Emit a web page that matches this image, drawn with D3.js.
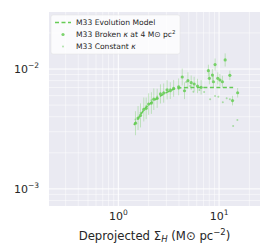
<!DOCTYPE html>
<html>
<head>
<meta charset="utf-8">
<script src="https://cdn.jsdelivr.net/npm/d3@7"></script>
<style>
  body { margin: 0; background: #fff; }
  text { font-family: "DejaVu Sans", sans-serif; fill: #262626; }
</style>
</head>
<body>
<script>
// evolution model (dashed)
var modelX = [1.43, 1.6, 1.79, 2.1, 2.43, 2.85, 3.28, 3.8, 4.44, 6, 8, 10, 13.8];
var modelY = [0.00341, 0.00395, 0.00455, 0.0052, 0.0057, 0.0062, 0.00659, 0.0069, 0.00699, 0.007, 0.007, 0.007, 0.007];

// broken kappa points, error in dex
var brokenX = [1.48, 1.57, 1.66, 1.79, 1.89, 2.00, 2.13, 2.25, 2.43, 2.62, 2.82, 3.05, 3.28, 3.54, 3.97, 4.31,
  4.54, 4.91, 5.29, 5.66, 6.11, 6.64, 7.84, 8.02, 8.59, 8.79, 9.13, 9.71, 10.2, 10.8, 11.5, 12.8, 13.6, 15.3];
var brokenY = [0.00353, 0.0039, 0.0041, 0.0046, 0.0047, 0.0051, 0.0052, 0.0056, 0.0057, 0.0062, 0.0063, 0.0067, 0.0066, 0.0069, 0.0071, 0.00858,
  0.00659, 0.00799, 0.00769, 0.0075, 0.00722, 0.00704, 0.00968, 0.00836, 0.00891, 0.00783, 0.0109, 0.00836, 0.0081, 0.00783, 0.0119, 0.00886, 0.00545, 0.00634];
var brokenErr = [0.1, 0.1, 0.1, 0.1, 0.09, 0.09, 0.09, 0.09, 0.08, 0.08, 0.08, 0.08, 0.07, 0.07, 0.07, 0.07,
  0.07, 0.07, 0.06, 0.06, 0.06, 0.06, 0.05, 0.05, 0.05, 0.05, 0.05, 0.05, 0.05, 0.05, 0.055, 0.04, 0.04, 0.04];

// constant kappa points
var constX = [1.48, 1.66, 1.89, 2.13, 2.43, 2.82, 3.28, 3.97, 4.72, 5.17, 5.57, 6.39, 7.11, 8.15, 9.13, 9.84, 10.9, 11.9, 12.8, 13.8, 15.2];
var constY = [0.0038, 0.0043, 0.0049, 0.0055, 0.0059, 0.0064, 0.0068, 0.0068, 0.00779, 0.00722, 0.00647, 0.00668, 0.00643, 0.00559, 0.00596, 0.00588, 0.00528, 0.0057, 0.00559, 0.00335, 0.00376];

var xTicks = [1, 10];
var yTicks = [0.001, 0.01];

var w = 266, h = 244;
var m = {left: 49, right: 6, top: 12, bottom: 38};
var green = '#66cc55';

var x = d3.scaleLog().domain([0.205, 25.5]).range([m.left, w - m.right]);
var y = d3.scaleLog().domain([0.00072, 0.0299]).range([h - m.bottom, m.top]);

var svg = d3.select('body').append('svg')
  .attr('width', w)
  .attr('height', h);

svg.append('rect')
  .attr('x', m.left).attr('y', m.top)
  .attr('width', w - m.left - m.right)
  .attr('height', h - m.top - m.bottom)
  .attr('fill', '#eaeaf2');

var xMinor = [];
[0.1, 1, 10].forEach(function(b) {
  for (var i = 2; i < 10; i++) if (b * i > 0.205 && b * i < 25.5) xMinor.push(b * i);
});
var yMinor = [];
[0.0001, 0.001, 0.01].forEach(function(b) {
  for (var i = 2; i < 10; i++) if (b * i > 0.00072 && b * i < 0.0299) yMinor.push(b * i);
});

var grid = svg.append('g');
grid.selectAll('.vmin').data(xMinor).enter().append('line')
  .attr('x1', x).attr('x2', x).attr('y1', m.top).attr('y2', h - m.bottom)
  .attr('stroke', '#fff').attr('stroke-width', 0.5);
grid.selectAll('.hmin').data(yMinor).enter().append('line')
  .attr('y1', y).attr('y2', y).attr('x1', m.left).attr('x2', w - m.right)
  .attr('stroke', '#fff').attr('stroke-width', 0.5);
grid.selectAll('.vmaj').data(xTicks).enter().append('line')
  .attr('x1', x).attr('x2', x).attr('y1', m.top).attr('y2', h - m.bottom)
  .attr('stroke', '#fff').attr('stroke-width', 1);
grid.selectAll('.hmaj').data(yTicks).enter().append('line')
  .attr('y1', y).attr('y2', y).attr('x1', m.left).attr('x2', w - m.right)
  .attr('stroke', '#fff').attr('stroke-width', 1);

// tick labels
var xl = svg.append('g').selectAll('text').data(xTicks).enter().append('text')
  .attr('x', x).attr('y', 220)
  .attr('text-anchor', 'middle')
  .style('font-size', '11px');
xl.append('tspan').text('10');
xl.append('tspan').attr('dy', -5).style('font-size', '7.5px')
  .text(function(d) { return String(Math.round(Math.log10(d))); });

var yl = svg.append('g').selectAll('text').data(yTicks).enter().append('text')
  .attr('x', 39).attr('y', function(d) { return y(d) + 4; })
  .attr('text-anchor', 'end')
  .style('font-size', '11px');
yl.append('tspan').text('10');
yl.append('tspan').attr('dy', -5).style('font-size', '7.5px')
  .text(function(d) { return '\u2212' + Math.abs(Math.round(Math.log10(d))); });

// axis label
var lab = svg.append('text')
  .attr('x', (m.left + w - m.right) / 2).attr('y', 240)
  .attr('text-anchor', 'middle')
  .style('font-size', '11.7px');
lab.append('tspan').text('Deprojected \u03a3');
lab.append('tspan').attr('dy', 2).style('font-size', '8.5px').style('font-style', 'italic').text('H');
lab.append('tspan').attr('dy', -2).text(' (M\u2299 pc');
lab.append('tspan').attr('dy', -5).style('font-size', '8.5px').text('\u22122');
lab.append('tspan').attr('dy', 5).text(')');

// error bars
svg.append('g').selectAll('line').data(brokenX).enter().append('line')
  .attr('x1', function(d) { return x(d); })
  .attr('x2', function(d) { return x(d); })
  .attr('y1', function(d, i) { return y(brokenY[i] * Math.pow(10, brokenErr[i])); })
  .attr('y2', function(d, i) { return y(brokenY[i] / Math.pow(10, brokenErr[i])); })
  .attr('stroke', green).attr('stroke-opacity', 0.35).attr('stroke-width', 1);

var line = d3.line()
  .x(function(d, i) { return x(modelX[i]); })
  .y(function(d) { return y(d); })
  .curve(d3.curveMonotoneX);

svg.append('path')
  .datum(modelY)
  .attr('d', line)
  .attr('fill', 'none')
  .attr('stroke', green)
  .attr('stroke-width', 1.5)
  .attr('stroke-dasharray', '4,2.5');

svg.append('g').selectAll('circle').data(constX).enter().append('circle')
  .attr('cx', function(d) { return x(d); })
  .attr('cy', function(d, i) { return y(constY[i]); })
  .attr('r', 1)
  .attr('fill', green).attr('fill-opacity', 0.5);

svg.append('g').selectAll('circle').data(brokenX).enter().append('circle')
  .attr('cx', function(d) { return x(d); })
  .attr('cy', function(d, i) { return y(brokenY[i]); })
  .attr('r', 1.6)
  .attr('fill', green).attr('fill-opacity', 0.85);

// legend
var lg = svg.append('g');
lg.append('rect')
  .attr('x', 51).attr('y', 15).attr('width', 129).attr('height', 39).attr('rx', 2)
  .attr('fill', '#fff').attr('fill-opacity', 0.8)
  .attr('stroke', '#e0e0e0').attr('stroke-width', 0.5);
lg.append('line')
  .attr('x1', 55).attr('x2', 71).attr('y1', 22.5).attr('y2', 22.5)
  .attr('stroke', green).attr('stroke-width', 1.5).attr('stroke-dasharray', '4,2.5');
lg.append('circle').attr('cx', 63).attr('cy', 34.5).attr('r', 1.6).attr('fill', green).attr('fill-opacity', 0.85);
lg.append('circle').attr('cx', 63).attr('cy', 46.5).attr('r', 1).attr('fill', green).attr('fill-opacity', 0.5);

var lt = lg.append('g').style('font-size', '7.6px');
lt.append('text').attr('x', 76).attr('y', 25.3).text('M33 Evolution Model');
var t2 = lt.append('text').attr('x', 76).attr('y', 37.3);
t2.append('tspan').text('M33 Broken ');
t2.append('tspan').style('font-style', 'italic').text('\u03ba');
t2.append('tspan').text(' at 4 M\u2299 pc');
t2.append('tspan').attr('dy', -3).style('font-size', '5.5px').text('2');
var t3 = lt.append('text').attr('x', 76).attr('y', 49.3);
t3.append('tspan').text('M33 Constant ');
t3.append('tspan').style('font-style', 'italic').text('\u03ba');
</script>
</body>
</html>
